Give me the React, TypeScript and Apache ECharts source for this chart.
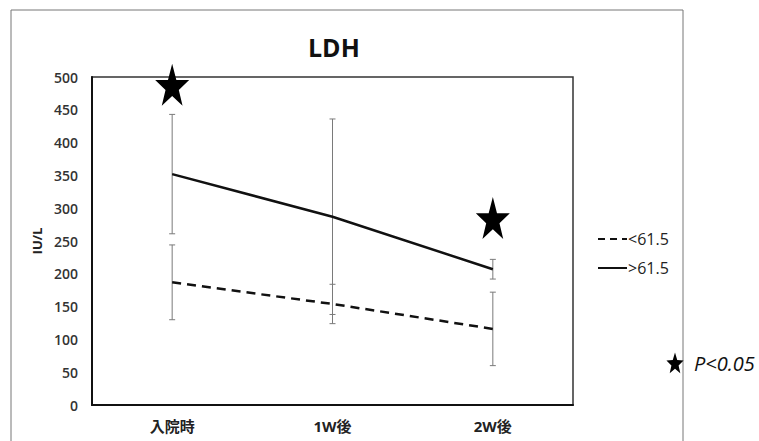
import React, { useEffect, useRef } from "react";
import * as echarts from "echarts";

const categories = ["入院時", "1W後", "2W後"];
const lowName = "<61.5";
const highName = ">61.5";
const lowMean = [187, 154, 116];
const lowErr = [57, 30, 56];
const highMean = [352, 287, 207];
const highErr = [91, 149, 15];
const starCategories = [0, 2];
const starValues = [488, 285];
const yTicks = [0, 500, 50]; // min, max, interval

const STAR = "path://M50,0 L61.8,35.1 L98.1,35.1 L68.8,56.8 L79.4,91.2 L50,70 L20.6,91.2 L31.2,56.8 L1.9,35.1 L38.2,35.1 Z";
const FONT = "'Open Sans', 'Noto Sans CJK JP', sans-serif";

function starPoints(cx: number, cy: number, rx: number, ry: number) {
  const pts: number[][] = [];
  for (let i = 0; i < 10; i++) {
    const r = i % 2 === 0 ? 1 : 0.42;
    const a = -Math.PI / 2 + (i * Math.PI) / 5;
    pts.push([cx + Math.cos(a) * rx * r, cy + Math.sin(a) * ry * r]);
  }
  return pts;
}

export default function App() {
  const ref = useRef<HTMLDivElement>(null);
  useEffect(() => {
    if (!ref.current) return;
    const chart = echarts.init(ref.current, undefined, { renderer: "svg" });
    const errData = (mean: number[], err: number[]) =>
      mean.map((m, i) => [i, m - err[i], m + err[i]]);
    const errSeries = (name: string, mean: number[], err: number[]) => ({
      type: "custom",
      name: name + "-err",
      z: 1,
      silent: true,
      data: errData(mean, err),
      encode: { x: 0, y: [1, 2] },
      renderItem: (params: any, api: any) => {
        const x = api.value(0);
        const lo = api.coord([x, api.value(1)]);
        const hi = api.coord([x, api.value(2)]);
        const c = 3;
        const st = { stroke: "#7a7a7a", lineWidth: 1 };
        return {
          type: "group",
          children: [
            { type: "line", shape: { x1: lo[0], y1: lo[1], x2: hi[0], y2: hi[1] }, style: st },
            { type: "line", shape: { x1: lo[0] - c, y1: lo[1], x2: lo[0] + c, y2: lo[1] }, style: st },
            { type: "line", shape: { x1: hi[0] - c, y1: hi[1], x2: hi[0] + c, y2: hi[1] }, style: st },
          ],
        };
      },
    });
    const legendEntries = [
      { name: lowName, dash: [7, 5], y: 239 },
      { name: highName, dash: null as any, y: 268 },
    ];
    const legendGraphics: any[] = [];
    legendEntries.forEach((e) => {
      legendGraphics.push({
        type: "line",
        shape: { x1: 598, y1: e.y, x2: 627, y2: e.y },
        style: { stroke: "#111", lineWidth: 2, lineDash: e.dash || undefined },
      });
      legendGraphics.push({
        type: "text",
        x: 628,
        y: e.y,
        style: { text: e.name, fontSize: 16, fill: "#222", fontFamily: FONT, verticalAlign: "middle" },
      });
    });
    chart.setOption({
      animation: false,
      backgroundColor: "#fff",
      textStyle: { fontFamily: FONT },
      title: {
        text: "LDH",
        left: 303,
        top: 29,
        textStyle: { fontSize: 25, fontWeight: "bold", color: "#111", fontFamily: FONT },
      },
      grid: {
        left: 92,
        right: 186,
        top: 77,
        bottom: 36,
        show: true,
        borderColor: "#333",
        borderWidth: 1.5,
      },
      xAxis: {
        type: "category",
        data: categories,
        boundaryGap: true,
        axisLine: { lineStyle: { color: "#111", width: 2 } },
        axisTick: { show: false },
        axisLabel: { fontSize: 15, fontWeight: "bold", color: "#222", margin: 13, fontFamily: FONT },
        splitLine: { show: false },
      },
      yAxis: {
        type: "value",
        min: yTicks[0],
        max: yTicks[1],
        interval: yTicks[2],
        name: "IU/L",
        nameLocation: "middle",
        nameRotate: 90,
        nameGap: 47,
        nameTextStyle: { fontSize: 13, fontWeight: "bold", color: "#222", fontFamily: FONT },
        axisLine: { show: true, lineStyle: { color: "#111", width: 2 } },
        axisTick: { show: false },
        axisLabel: { fontSize: 14, fontWeight: 600, color: "#333", margin: 14, fontFamily: FONT },
        splitLine: { show: false },
      },
      series: [
        errSeries(lowName, lowMean, lowErr),
        errSeries(highName, highMean, highErr),
        {
          type: "line",
          name: lowName,
          data: lowMean,
          z: 3,
          symbol: "none",
          showSymbol: false,
          color: "#111",
          lineStyle: { color: "#111", width: 2.5, type: [9, 6] },
        },
        {
          type: "line",
          name: highName,
          data: highMean,
          z: 3,
          symbol: "none",
          showSymbol: false,
          color: "#111",
          lineStyle: { color: "#111", width: 2.5, type: "solid" },
        },
        {
          type: "scatter",
          name: "star",
          z: 4,
          clip: false,
          symbol: STAR,
          symbolKeepAspect: false,
          symbolSize: [34, 42],
          itemStyle: { color: "#000", opacity: 1 },
          data: starCategories.map((c, i) => [c, starValues[i]]),
        },
      ],
      graphic: [
        {
          type: "rect",
          shape: { x: 11, y: 10, width: 672, height: 450 },
          style: { fill: "none", stroke: "#777", lineWidth: 1 },
          z: -1,
        },
        ...legendGraphics,
        {
          type: "polygon",
          shape: { points: starPoints(675, 364, 9, 11.5) },
          style: { fill: "#000" },
        },
        {
          type: "text",
          x: 694,
          y: 363,
          style: {
            text: "P<0.05",
            fontSize: 20,
            fontStyle: "italic",
            fill: "#111",
            fontFamily: FONT,
            verticalAlign: "middle",
          },
        },
      ],
    });
    return () => chart.dispose();
  }, []);
  return (
    <div
      ref={ref}
      style={{ position: "fixed", left: 0, top: 0, width: 759, height: 441, background: "#fff" }}
    />
  );
}
